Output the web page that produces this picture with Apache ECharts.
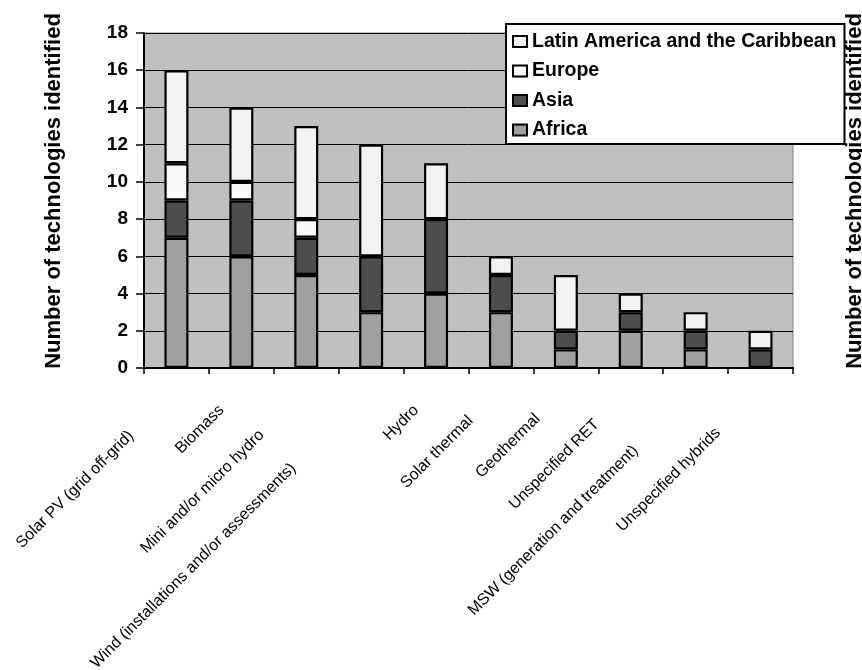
<!DOCTYPE html>
<html>
<head>
<meta charset="utf-8">
<script src="https://cdn.jsdelivr.net/npm/echarts@6/dist/echarts.min.js"></script>
<style>
  html, body { margin: 0; padding: 0; background: #ffffff; }
  #chart { width: 862px; height: 670px; }
</style>
</head>
<body>
<div id="chart"></div>
<script>
// Renewable energy technologies identified, by region
const categories = [
  'Solar PV (grid off-grid)',
  'Biomass',
  'Mini and/or micro hydro',
  'Wind (installations and/or assessments)',
  'Hydro',
  'Solar thermal',
  'Geothermal',
  'Unspecified RET',
  'MSW (generation and treatment)',
  'Unspecified hybrids'
];
const africa = [7, 6, 5, 3, 4, 3, 1, 2, 1, 0];
const asia   = [2, 3, 2, 3, 4, 2, 1, 1, 1, 1];
const europe = [2, 1, 1, 0, 0, 0, 0, 0, 0, 0];
const latinAmerica = [5, 4, 5, 6, 3, 1, 3, 1, 1, 1];
const yTicks = [0, 2, 4, 6, 8, 10, 12, 14, 16, 18];

const axisTitle = 'Number of technologies identified';

// extra space pushed after each rotated category label (staggered layout)
const labelShift = [64, 28, 63, 110, 28, 43, 40, 48, 85, 60];

const rich = {};
labelShift.forEach((w, i) => { rich['g' + i] = { width: w }; });

const FONT = 'Arial, "Liberation Sans", sans-serif';
const seg = arr => arr.map(v => (v === 0 ? '-' : v));

const barBase = {
  type: 'bar',
  stack: 'total',
  barWidth: 24,
  emphasis: { disabled: true }
};
const fill = c => ({ color: c, borderColor: '#000000', borderWidth: 2.2 });

const titleStyle = {
  fontFamily: FONT, fontWeight: 'bold', fontSize: 22, color: '#000000',
  padding: [0, 0, 0, 19]
};

const chart = echarts.init(document.getElementById('chart'), null, { renderer: 'canvas' });
chart.setOption({
  animation: false,
  backgroundColor: '#ffffff',
  grid: {
    left: 144, right: 69, top: 33, bottom: 302,
    outerBoundsMode: 'none',
    containLabel: false,
    show: true,
    backgroundColor: '#c0c0c0',
    borderColor: '#808080',
    borderWidth: 1
  },
  legend: {
    orient: 'vertical',
    left: 506,
    top: 24,
    padding: [7.5, 8, 4, 6],
    itemGap: 9.5,
    itemWidth: 14,
    itemHeight: 11,
    icon: 'rect',
    backgroundColor: '#ffffff',
    borderColor: '#000000',
    borderWidth: 2,
    data: ['Latin America and the Caribbean', 'Europe', 'Asia', 'Africa'],
    textStyle: { fontFamily: FONT, fontWeight: 'bold', fontSize: 19.5, lineHeight: 19, color: '#000000' },
    z: 2
  },
  xAxis: {
    type: 'category',
    data: categories,
    axisLine: { lineStyle: { color: '#000000', width: 2 } },
    axisTick: { show: true, length: 6, lineStyle: { color: '#000000', width: 1.5 } },
    axisLabel: {
      interval: 0,
      rotate: 45,
      margin: 20,
      fontFamily: FONT,
      fontSize: 16,
      color: '#000000',
      formatter: (v, i) => v + '{g' + i + '| }',
      rich: rich
    }
  },
  yAxis: [{
    type: 'value',
    min: yTicks[0],
    max: yTicks[yTicks.length - 1],
    interval: yTicks[1] - yTicks[0],
    name: axisTitle,
    nameLocation: 'middle',
    nameGap: 79,
    nameTextStyle: titleStyle,
    axisLine: { show: true, lineStyle: { color: '#000000', width: 2 } },
    axisTick: { show: true, length: 8, lineStyle: { color: '#000000', width: 1.5 } },
    axisLabel: { fontFamily: FONT, fontWeight: 'bold', fontSize: 19, color: '#000000', margin: 16 },
    splitLine: { show: true, lineStyle: { color: '#000000', width: 1 } }
  }, {
    type: 'value',
    position: 'right',
    z: 10,
    min: yTicks[0],
    max: yTicks[yTicks.length - 1],
    interval: yTicks[1] - yTicks[0],
    name: axisTitle,
    nameLocation: 'middle',
    nameRotate: 90,
    nameGap: 51,
    nameTextStyle: titleStyle,
    axisLine: { show: false },
    axisTick: { show: false },
    axisLabel: { show: false },
    splitLine: { show: false }
  }],
  series: [
    Object.assign({}, barBase, { name: 'Africa', data: seg(africa), itemStyle: fill('#a0a0a0') }),
    Object.assign({}, barBase, { name: 'Asia', data: seg(asia), itemStyle: fill('#4d4d4d') }),
    Object.assign({}, barBase, { name: 'Europe', data: seg(europe), itemStyle: fill('#fafafa') }),
    Object.assign({}, barBase, { name: 'Latin America and the Caribbean', data: seg(latinAmerica), itemStyle: fill('#f2f2f2') })
  ]
});
</script>
</body>
</html>
